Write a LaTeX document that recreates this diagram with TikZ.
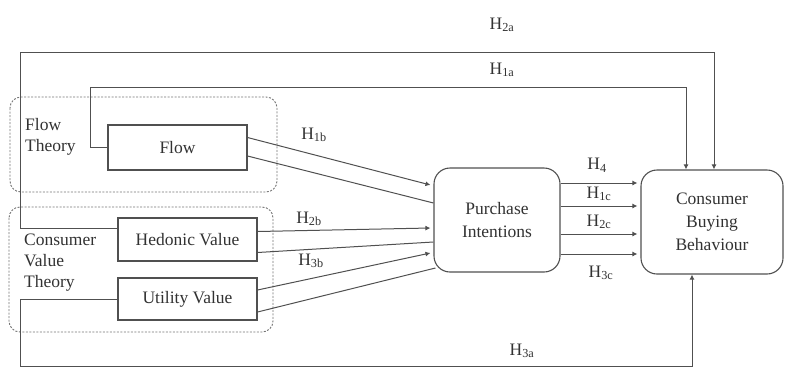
\documentclass[tikz,border=0pt]{standalone}
\usepackage{fontspec}
\setmainfont{Liberation Serif}
\usetikzlibrary{arrows.meta,positioning,shapes}
\definecolor{linegray}{RGB}{80,80,80}
\definecolor{textgray}{RGB}{50,50,50}

\begin{document}
\begin{tikzpicture}[x=1pt,y=-1pt,
    font=\fontsize{17.5}{23}\selectfont, text=textgray,
    link/.style={draw=linegray,line width=1pt},
    box/.style={rectangle,draw=linegray,line width=1.1pt,minimum width=139pt,inner sep=0pt},
    rbox/.style={rectangle,rounded corners=16pt,draw=linegray,line width=1.1pt,align=center,
        minimum width=126pt,minimum height=104pt,inner sep=0pt},
    theory/.style={draw=linegray!80,line width=0.9pt,dash pattern=on 2pt off 1.5pt,rounded corners=11pt},
    arr/.style={link,-{Latex[length=5pt,width=5pt]}},
    hyp/.style={inner sep=1pt}]
   \useasboundingbox (0,0) rectangle (785,368);

   % groups
   \draw[theory] (10,97) rectangle (277,192);
   \draw[theory] (9,207) rectangle (273,332);
   \node[anchor=north west,align=left,inner sep=0pt] (flowth) at (25,118) {Flow\\[-2pt]Theory};
   \node[anchor=north west,align=left,inner sep=0pt] (cvth) at (24,234) {Consumer\\[-2pt]Value\\[-2pt]Theory};

   % constructs
   \node[box,minimum height=45pt] (flow)    at (177.5,147.5) {Flow};
   \node[box,minimum height=43pt] (hedonic) at (187.5,239.5) {Hedonic Value};
   \node[box,minimum height=42pt] (utility) at (187.5,299)   {Utility Value};
   \node[rbox] (pi)  at (497,220) {Purchase\\Intentions};
   \node[rbox,minimum width=142pt] (cbb) at (712,222) {Consumer\\Buying\\Behaviour};

   % direct paths
   \draw[arr] ([yshift=11pt]hedonic.west) -| (20,52) -| ([xshift=2pt]cbb.north);
   \draw[arr] (flow.west) -| (90,87) -| ([xshift=-26pt]cbb.north);
   \draw[arr] (utility.west) -| (20,366) -| ([xshift=-20pt]cbb.south);

   % into purchase intentions
   \draw[arr] ([yshift=10pt]flow.east) -- ([yshift=35pt,xshift=-3pt]pi.west);
   \draw[link] ([yshift=-8.5pt]flow.east) -- ([yshift=17pt]pi.west);
   \draw[arr] ([yshift=8pt]hedonic.east) -- ([yshift=-8pt,xshift=-3pt]pi.west);
   \draw[link] ([yshift=-13pt]hedonic.east) -- ([yshift=-22pt]pi.west);
   \draw[arr] ([yshift=9pt]utility.east) -- ([yshift=-33pt,xshift=-3pt]pi.west);
   \draw[link] ([yshift=-13pt]utility.east) -- ([yshift=-48pt,xshift=2pt]pi.west);

   % into buying behaviour
   \foreach \dy in {37,14,-14,-34}
      \draw[arr] ([yshift=\dy pt]pi.east) -- ([yshift=\dy pt,xshift=-3pt]pi.east -| cbb.west);

   % hypotheses
   \node[hyp] (h2a) at (502,25)  {H\textsubscript{2a}};
   \node[hyp] (h1a) at (502,70)  {H\textsubscript{1a}};
   \node[hyp] (h1b) at (314,135) {H\textsubscript{1b}};
   \node[hyp] (h2b) at (309,219) {H\textsubscript{2b}};
   \node[hyp] (h3b) at (311,261) {H\textsubscript{3b}};
   \node[hyp] (h4)  at (597,165) {H\textsubscript{4}};
   \node[hyp] (h1c) at (599,194) {H\textsubscript{1c}};
   \node[hyp] (h2c) at (599,222) {H\textsubscript{2c}};
   \node[hyp] (h3c) at (601,273) {H\textsubscript{3c}};
   \node[hyp] (h3a) at (522,351) {H\textsubscript{3a}};
\end{tikzpicture}
\end{document}
